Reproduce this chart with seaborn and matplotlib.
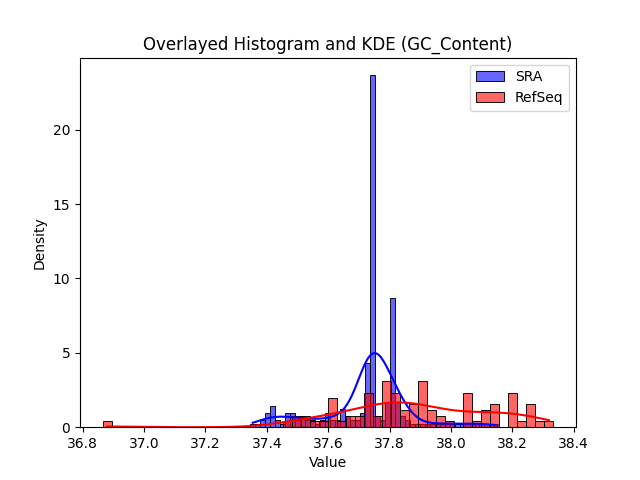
import numpy as np
import pandas as pd
import matplotlib
matplotlib.use("Agg")
import matplotlib.pyplot as plt
import seaborn as sns

# GC content range covered by each group (bin edges span these)
sra_range = (37.346, 38.158)
refseq_range = (36.865, 38.334)
n_bins = 50

# counts per bin (50 bins each)
sra_counts = [1, 1, 2, 4, 6, 2, 1, 4, 4, 2,
              3, 2, 2, 1, 2, 4, 2, 2, 5, 3,
              2, 2, 4, 18, 98, 3, 2, 7, 36, 7,
              3, 2, 1, 1, 1, 1, 1, 1, 1, 1,
              1, 1, 1, 1, 1, 1, 1, 1, 1, 1]

refseq_counts = [1, 0, 0, 0, 0, 0, 0, 0, 0, 0,
                 0, 0, 0, 0, 0, 0, 0, 0, 0, 0,
                 1, 2, 2, 1, 1, 5, 1, 2, 2, 6,
                 2, 8, 6, 3, 4, 8, 3, 2, 1, 0,
                 6, 1, 3, 4, 0, 6, 1, 4, 1, 1]


def expand(counts, lo, hi):
    # put every observation at the centre of its bin
    w = (hi - lo) / len(counts)
    centres = lo + w * (np.arange(len(counts)) + 0.5)
    return np.repeat(centres, counts)


sra = pd.Series(expand(sra_counts, *sra_range), name="GC_Content")
refseq = pd.Series(expand(refseq_counts, *refseq_range), name="GC_Content")

fig, ax = plt.subplots(figsize=(6.4, 4.8), dpi=100)

sns.histplot(sra, bins=n_bins, binrange=sra_range, kde=True, stat="density",
             color="blue", alpha=0.6, label="SRA", ax=ax)
sns.histplot(refseq, bins=n_bins, binrange=refseq_range, kde=True, stat="density",
             color="red", alpha=0.6, label="RefSeq", ax=ax)

ax.set_title("Overlayed Histogram and KDE (GC_Content)")
ax.set_xlabel("Value")
ax.set_ylabel("Density")
ax.legend()

plt.savefig("out.png")
